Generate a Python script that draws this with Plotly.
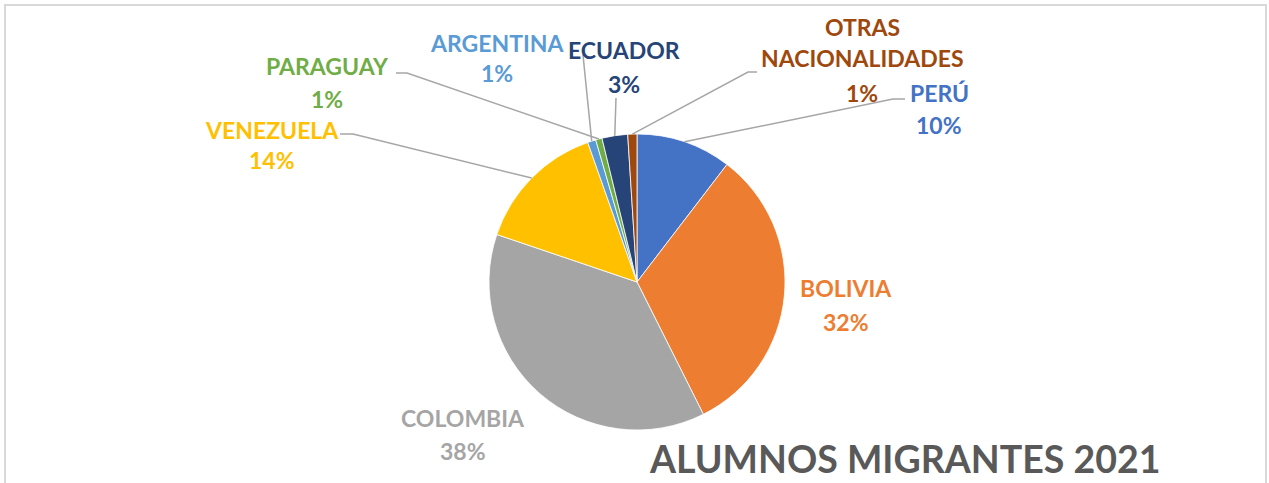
import math
import plotly.graph_objects as go

# data (share of students, %)
paises = ['PERÚ', 'BOLIVIA', 'COLOMBIA', 'VENEZUELA', 'ARGENTINA',
          'PARAGUAY', 'ECUADOR', 'OTRAS<br>NACIONALIDADES']
valores = [10.4, 32.2, 37.6, 14.4, 0.9, 0.7, 2.8, 1.0]
colores = ['#4472C4', '#ED7D31', '#A5A5A5', '#FFC000', '#5B9BD5',
           '#70AD47', '#264478', '#9E480E']

W, H = 1269, 483
CX, CY, R = 637, 282, 148   # pie centre / radius in px


def px(x):
    return x / W


def py(y):
    return 1 - y / H


# label positions (name centre, pct centre) in px
pos_nombre = [(939, 93), (846, 288), (463, 418), (272, 130), (497, 43),
              (327, 66), (624, 50), (862, 43)]
pos_pct = [(939, 125), (846, 322), (463, 451), (272, 160), (497, 73),
           (327, 99), (624, 84), (862, 93)]
# leader line start (None = no line): list of points before the pie edge
lineas = [[(905, 99), (893, 99)], None, None, [(340, 134), (353, 134)],
          [(583, 55)], [(396, 73), (407, 73)], [(616, 98)],
          [(757, 72), (748, 72)]]

fig = go.Figure(go.Pie(
    labels=paises, values=valores, sort=False, direction='clockwise',
    rotation=0, textinfo='none', hoverinfo='label+percent',
    marker=dict(colors=colores, line=dict(color='white', width=0.8)),
    domain=dict(x=[px(CX - R), px(CX + R)], y=[py(CY + R), py(CY - R)]),
    showlegend=False,
))

total = sum(valores)
acum = 0
shapes = [dict(type='rect', xref='paper', yref='paper', x0=px(5), x1=px(1266),
               y0=-0.05, y1=py(5), line=dict(color='#D9D9D9', width=2))]
annotations = []
for i, v in enumerate(valores):
    medio = (acum + v / 2) / total
    acum += v
    th = 2 * math.pi * medio
    ex, ey = CX + R * math.sin(th), CY - R * math.cos(th)
    if lineas[i]:
        pts = lineas[i] + [(ex, ey)]
        path = 'M ' + ' L '.join(f'{px(a)},{py(b)}' for a, b in pts)
        shapes.append(dict(type='path', xref='paper', yref='paper', path=path,
                           line=dict(color='#A6A6A6', width=1.5)))
    f = dict(family='Lato', size=23, color=colores[i])
    nombre = paises[i]
    if '<br>' in nombre:
        a, b = nombre.split('<br>')
        annotations.append(dict(text=f'<b>{a}</b>', x=px(862), y=py(27), font=f))
        annotations.append(dict(text=f'<b>{b}</b>', x=px(862), y=py(58), font=f))
    else:
        annotations.append(dict(text=f'<b>{nombre}</b>', x=px(pos_nombre[i][0]),
                                y=py(pos_nombre[i][1]), font=f))
    annotations.append(dict(text=f'<b>{round(100 * v / total)}%</b>',
                            x=px(pos_pct[i][0]), y=py(pos_pct[i][1]), font=f))

for a in annotations:
    a.update(xref='paper', yref='paper', showarrow=False,
             xanchor='center', yanchor='middle')

annotations.append(dict(text='<b>ALUMNOS MIGRANTES 2021</b>', xref='paper',
                        yref='paper', x=px(905), y=py(458), showarrow=False,
                        xanchor='center', yanchor='middle',
                        font=dict(family='Lato', size=37.5, color='#595959')))

fig.update_layout(width=W, height=H, margin=dict(l=0, r=0, t=0, b=0),
                  paper_bgcolor='white', plot_bgcolor='white',
                  shapes=shapes, annotations=annotations)
fig.write_html('out.html', config={'displayModeBar': False},
               post_script="document.body.style.margin='0';")
